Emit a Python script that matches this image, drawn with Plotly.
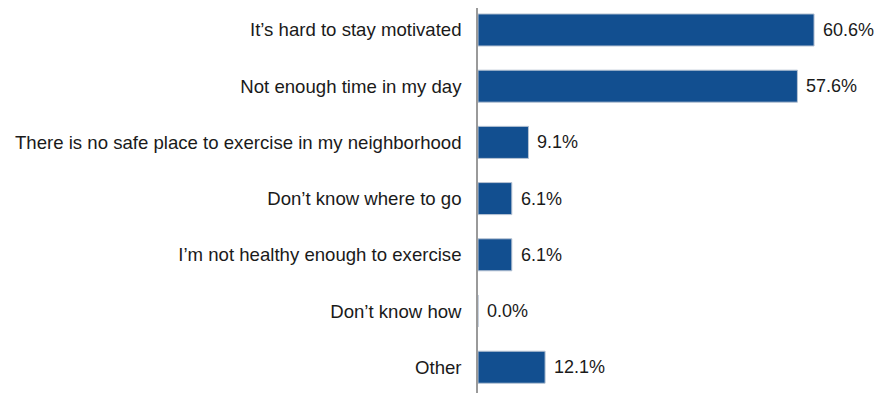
import plotly.graph_objects as go

# Barriers to exercise (percent of respondents)
reasons = [
    "It\u2019s hard to stay motivated",
    "Not enough time in my day",
    "There is no safe place to exercise in my neighborhood",
    "Don\u2019t know where to go",
    "I\u2019m not healthy enough to exercise",
    "Don\u2019t know how",
    "Other",
]
percents = [60.6, 57.6, 9.1, 6.1, 6.1, 0.0, 12.1]

font_family = "Liberation Sans, Arial, sans-serif"

fig = go.Figure()

fig.add_trace(go.Bar(
    x = percents,
    y = reasons,
    orientation = "h",
    width = 0.57,
    marker = dict(color = "#124F90", line = dict(color = "#b8c4d4", width = 1)),
    hoverinfo = "skip",
))

# Value labels just right of each bar
for r, p in zip(reasons, percents):
    fig.add_annotation(
        x = p, y = r, text = f"{p:.1f}%", showarrow = False,
        xanchor = "left", xshift = 7,
        font = dict(family = font_family, size = 18, color = "#1a1a1a"),
    )

fig.update_xaxes(range = [0, 76.1], visible = False, fixedrange = True)

fig.update_yaxes(
    type = "category",
    range = [6.601, -0.391],
    showline = True, linecolor = "#9a9a9a", linewidth = 1.5,
    showgrid = False, zeroline = False, ticks = "",
    ticklabelstandoff = 11,
    tickfont = dict(family = font_family, size = 18.6, color = "#1a1a1a"),
)

fig.update_layout(
    width = 892, height = 393,
    margin = dict(l = 470, r = 0, t = 0, b = 0, autoexpand = False),
    plot_bgcolor = "white", paper_bgcolor = "white",
    showlegend = False,
    bargap = 0.43,
)

fig.write_html("out.html")
